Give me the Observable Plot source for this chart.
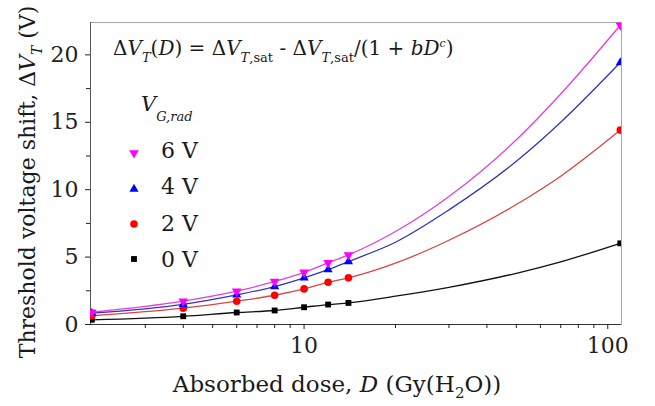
<!DOCTYPE html>
<html>
<head>
<meta charset="utf-8">
<script src="https://cdn.jsdelivr.net/npm/d3@7"></script>
<script src="https://cdn.jsdelivr.net/npm/@observablehq/plot@0.6"></script>
<style>
  html, body { margin: 0; padding: 0; background: #fff; }
  #chart { width: 655px; height: 406px; }
  #chart svg text { font-family: "DejaVu Serif", serif; }
</style>
</head>
<body>
<div id="chart"></div>
<script>
// ---- data ----
const dose = [2, 4, 6, 8, 10, 12, 14, 110];
const seriesNames = ["6 V", "4 V", "2 V", "0 V"];
const v6 = [0.91, 1.73, 2.47, 3.19, 3.87, 4.57, 5.16, 22.2];
const v4 = [0.84, 1.50, 2.20, 2.81, 3.46, 4.07, 4.67, 19.43];
const v2 = [0.65, 1.21, 1.73, 2.17, 2.64, 3.13, 3.46, 14.42];
const v0 = [0.35, 0.61, 0.89, 1.04, 1.28, 1.48, 1.60, 6.02];
// fitted curve, read at doses between the measurements
const fitDose = [20, 30, 50, 70];
const fit6 = [6.9, 9.5, 13.7, 17.1];
const fit4 = [6.1, 8.5, 12.1, 15.0];
const fit2 = [4.55, 6.25, 8.9, 11.0];
const fit0 = [2.1, 2.76, 3.8, 4.65];
// ticks
const xMajor = [10, 100];
const xMinor = [3, 4, 5, 6, 7, 8, 9, 20, 30, 40, 50, 60, 70, 80, 90];
const yMajor = [0, 5, 10, 15, 20];
const yMinor = [2.5, 7.5, 12.5, 17.5];

const values = {"6 V": v6, "4 V": v4, "2 V": v2, "0 V": v0};
const fits = {"6 V": fit6, "4 V": fit4, "2 V": fit2, "0 V": fit0};
const markerColor = {"6 V": "#ff00ff", "4 V": "#0000ff", "2 V": "#ff0000", "0 V": "#000000"};
const lineColor = {"6 V": "#e040e0", "4 V": "#3434b8", "2 V": "#d94444", "0 V": "#111111"};

const sqrt3 = Math.sqrt(3);
const triangleDown = {
  draw(context, size) {
    const y = -Math.sqrt(size / (sqrt3 * 3));
    context.moveTo(0, -y * 2);
    context.lineTo(-sqrt3 * y, y);
    context.lineTo(sqrt3 * y, y);
    context.closePath();
  }
};
const symbols = {"6 V": triangleDown, "4 V": d3.symbolTriangle, "2 V": d3.symbolCircle, "0 V": d3.symbolSquare};
const radii = {"6 V": 3.6, "4 V": 3.4, "2 V": 3.8, "0 V": 3.3};

const markerRows = seriesNames.flatMap(s => dose.map((D, i) => ({D, v: values[s][i], s})));
const lineRows = seriesNames.flatMap(s =>
  [...dose.map((D, i) => ({D, v: values[s][i], s})), ...fitDose.map((D, i) => ({D, v: fits[s][i], s}))]
    .sort((a, b) => a.D - b.D));

const xDomain = [1.98, 111];
const font = "'DejaVu Serif', serif";

const plot = Plot.plot({
  width: 655,
  height: 406,
  marginLeft: 90,
  marginRight: 34,
  marginTop: 22,
  marginBottom: 82,
  x: {type: "log", domain: xDomain, label: null},
  y: {domain: [0, 22.4], label: null},
  style: {fontFamily: font, background: "#fff", color: "#222"},
  marks: [
    Plot.frame({stroke: "#a8a8a8"}),
    Plot.ruleY([0], {stroke: "#333"}),
    Plot.ruleX([xDomain[0]], {stroke: "#555"}),
    Plot.axisX(xMajor, {tickSize: 5, tickPadding: 8, fontSize: 22, label: null, tickFormat: d => String(d)}),
    Plot.axisX(xMinor, {tickSize: 4, tickFormat: () => "", label: null}),
    Plot.axisY(yMajor, {tickSize: 5, tickPadding: 7, fontSize: 22, label: null}),
    Plot.axisY(yMinor, {tickSize: 4, tickFormat: () => "", label: null}),
    Plot.line(lineRows, {x: "D", y: "v", z: "s", stroke: d => lineColor[d.s], curve: "monotone-x", strokeWidth: 1.3}),
    ...seriesNames.slice().reverse().map(s =>
      Plot.dot(markerRows.filter(d => d.s === s), {
        x: "D", y: "v", symbol: symbols[s], r: radii[s], fill: markerColor[s], stroke: "none", clip: true
      }))
  ]
});
document.getElementById("chart").appendChild(plot);

// ---- rich text (sub/superscripts) ----
const svg = d3.select(plot);
function richText(x, y, parts, opts = {}) {
  const t = svg.append("text")
    .attr("x", x).attr("y", y)
    .attr("font-size", opts.size || 20)
    .attr("fill", "#1a1a1a")
    .attr("text-anchor", opts.anchor || "start");
  if (opts.transform) t.attr("transform", opts.transform).attr("x", 0).attr("y", 0);
  let shift = 0;
  for (const p of parts) {
    const sp = t.append("tspan").text(p.t);
    let target = p.sub ? p.sub : p.sup ? -p.sup : 0;
    if (target !== shift) { sp.attr("dy", target - shift); shift = target; }
    if (p.italic) sp.attr("font-style", "italic");
    if (p.size) sp.attr("font-size", p.size);
  }
  return t;
}

// formula
richText(113, 55, [
  {t: "Δ"}, {t: "V", italic: true}, {t: "T", italic: true, sub: 7, size: 13},
  {t: "("}, {t: "D", italic: true}, {t: ") = Δ"}, {t: "V", italic: true},
  {t: "T", italic: true, sub: 7, size: 13}, {t: ",sat", sub: 7, size: 13},
  {t: " - Δ"}, {t: "V", italic: true},
  {t: "T", italic: true, sub: 7, size: 13}, {t: ",sat", sub: 7, size: 13},
  {t: "/(1 + "}, {t: "bD", italic: true}, {t: "c", italic: true, sup: 8, size: 11}, {t: ")"}
], {size: 20});

// legend title
richText(141, 111, [
  {t: "V", italic: true}, {t: "G,rad", italic: true, sub: 10, size: 13}
], {size: 21});

// legend entries
const legendMarkerY = [153, 189, 224, 259];
const legendTextY = [158, 194, 231, 267];
seriesNames.forEach((s, i) => {
  svg.append("path")
    .attr("transform", `translate(134,${legendMarkerY[i]})`)
    .attr("d", d3.symbol(symbols[s], Math.PI * radii[s] * radii[s])())
    .attr("fill", markerColor[s]);
  richText(161, legendTextY[i], [{t: s}], {size: 22});
});

// axis labels
richText(337, 392, [
  {t: "Absorbed dose, "}, {t: "D", italic: true}, {t: " (Gy(H"}, {t: "2", sub: 6, size: 15}, {t: "O))"}
], {size: 23, anchor: "middle"});

richText(0, 0, [
  {t: "Threshold voltage shift, Δ"}, {t: "V", italic: true}, {t: "T", italic: true, sub: 7, size: 14}, {t: " (V)"}
], {size: 22, anchor: "middle", transform: "translate(35,182) rotate(-90)"});
</script>
</body>
</html>
